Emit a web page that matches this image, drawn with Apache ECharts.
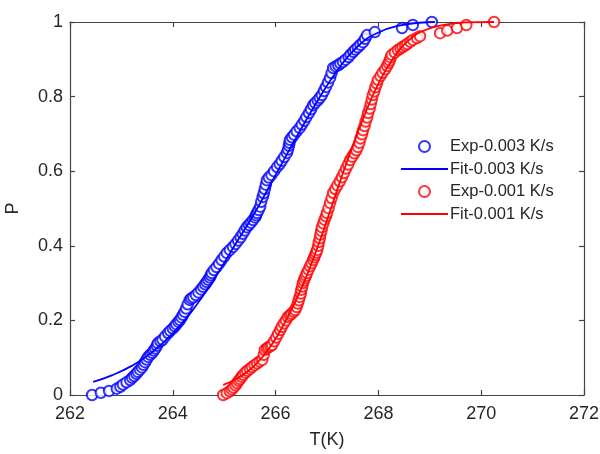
<!DOCTYPE html>
<html>
<head>
<meta charset="utf-8">
<script src="https://cdn.jsdelivr.net/npm/echarts@6/dist/echarts.min.js"></script>
<style>
    html, body { margin: 0; padding: 0; background: #fff; }
    #chart { width: 600px; height: 454px; }
</style>
</head>
<body>
<div id="chart"></div>
<script>
'use strict';
// 实验数据 (经验分布) 与拟合曲线
const expFastT = [262.43, 262.60, 262.76, 262.91, 262.98, 263.03, 263.10, 263.17, 263.21, 263.25,
    263.29, 263.32, 263.36, 263.40, 263.43, 263.46, 263.49, 263.52, 263.56, 263.60,
    263.63, 263.66, 263.69, 263.71, 263.76, 263.80, 263.85, 263.91, 263.95, 264.00,
    264.04, 264.07, 264.11, 264.14, 264.17, 264.20, 264.23, 264.26, 264.29, 264.33,
    264.36, 264.40, 264.45, 264.50, 264.55, 264.59, 264.63, 264.66, 264.69, 264.72,
    264.74, 264.76, 264.80, 264.85, 264.90, 264.95, 265.00, 265.05, 265.11, 265.17,
    265.22, 265.27, 265.32, 265.36, 265.40, 265.44, 265.48, 265.52, 265.56, 265.60,
    265.62, 265.64, 265.67, 265.70, 265.72, 265.75, 265.77, 265.79, 265.81, 265.83,
    265.87, 265.92, 265.97, 266.03, 266.08, 266.12, 266.17, 266.22, 266.24, 266.26,
    266.27, 266.28, 266.32, 266.36, 266.41, 266.47, 266.51, 266.56, 266.60, 266.65,
    266.69, 266.73, 266.77, 266.82, 266.86, 266.90, 266.94, 266.98, 267.02, 267.06,
    267.09, 267.12, 267.17, 267.22, 267.26, 267.31, 267.36, 267.42, 267.46, 267.51,
    267.55, 267.60, 267.65, 267.70, 267.74, 267.78, 267.93, 268.46, 268.67, 269.04];
const expFastP = [0.000, 0.006, 0.011, 0.017, 0.022, 0.028, 0.034, 0.040, 0.046, 0.051,
    0.057, 0.062, 0.068, 0.074, 0.081, 0.088, 0.095, 0.102, 0.108, 0.113,
    0.119, 0.125, 0.132, 0.139, 0.144, 0.148, 0.157, 0.166, 0.172, 0.178,
    0.184, 0.190, 0.196, 0.201, 0.208, 0.215, 0.223, 0.232, 0.243, 0.255,
    0.259, 0.262, 0.268, 0.275, 0.283, 0.290, 0.297, 0.303, 0.309, 0.315,
    0.321, 0.327, 0.335, 0.343, 0.352, 0.362, 0.371, 0.381, 0.389, 0.397,
    0.405, 0.414, 0.423, 0.432, 0.441, 0.450, 0.456, 0.462, 0.469, 0.476,
    0.482, 0.488, 0.496, 0.505, 0.518, 0.531, 0.541, 0.552, 0.564, 0.576,
    0.583, 0.590, 0.600, 0.611, 0.619, 0.628, 0.638, 0.649, 0.658, 0.668,
    0.676, 0.684, 0.691, 0.698, 0.707, 0.716, 0.725, 0.735, 0.745, 0.756,
    0.766, 0.777, 0.783, 0.790, 0.797, 0.804, 0.815, 0.826, 0.838, 0.850,
    0.863, 0.877, 0.881, 0.884, 0.889, 0.893, 0.899, 0.906, 0.913, 0.920,
    0.926, 0.932, 0.939, 0.946, 0.955, 0.965, 0.973, 0.984, 0.992, 1.000];

const fitFastT = [262.45, 262.8, 263.2, 263.6, 264.0, 264.4, 264.8, 265.2, 265.6,
    266.0, 266.4, 266.8, 267.2, 267.6, 268.0, 268.4, 268.8, 269.1];
const fitFastP = [0.035, 0.052, 0.078, 0.115, 0.165, 0.23, 0.31, 0.40, 0.49,
    0.59, 0.69, 0.785, 0.87, 0.935, 0.972, 0.99, 0.998, 1.0];

const expSlowT = [264.98, 265.05, 265.11, 265.15, 265.18, 265.22, 265.25, 265.28, 265.31, 265.34,
    265.37, 265.41, 265.45, 265.50, 265.54, 265.59, 265.64, 265.69, 265.74, 265.77,
    265.79, 265.83, 265.86, 265.90, 265.93, 265.97, 266.01, 266.05, 266.09, 266.12,
    266.16, 266.20, 266.24, 266.28, 266.31, 266.35, 266.38, 266.41, 266.43, 266.45,
    266.47, 266.49, 266.50, 266.52, 266.53, 266.55, 266.57, 266.59, 266.61, 266.64,
    266.67, 266.70, 266.73, 266.75, 266.77, 266.79, 266.81, 266.83, 266.84, 266.86,
    266.87, 266.89, 266.90, 266.93, 266.95, 266.98, 267.00, 267.03, 267.06, 267.09,
    267.12, 267.16, 267.20, 267.25, 267.29, 267.33, 267.37, 267.41, 267.45, 267.49,
    267.53, 267.57, 267.60, 267.63, 267.65, 267.68, 267.70, 267.73, 267.75, 267.78,
    267.80, 267.83, 267.85, 267.87, 267.89, 267.92, 267.94, 267.97, 267.99, 268.04,
    268.08, 268.13, 268.17, 268.20, 268.22, 268.24, 268.26, 268.32, 268.38, 268.43,
    268.47, 268.52, 268.56, 268.62, 268.67, 268.75, 268.81, 269.20, 269.34, 269.53,
    269.71, 270.25];
const expSlowP = [0.000, 0.005, 0.010, 0.015, 0.020, 0.026, 0.032, 0.038, 0.043, 0.049,
    0.054, 0.060, 0.065, 0.070, 0.075, 0.080, 0.085, 0.090, 0.094, 0.108,
    0.121, 0.125, 0.128, 0.131, 0.134, 0.144, 0.154, 0.164, 0.174, 0.183,
    0.192, 0.200, 0.209, 0.214, 0.218, 0.223, 0.228, 0.236, 0.245, 0.254,
    0.263, 0.272, 0.282, 0.291, 0.300, 0.307, 0.314, 0.320, 0.327, 0.336,
    0.345, 0.353, 0.362, 0.369, 0.376, 0.382, 0.389, 0.400, 0.410, 0.420,
    0.430, 0.440, 0.450, 0.460, 0.470, 0.479, 0.488, 0.501, 0.515, 0.528,
    0.542, 0.552, 0.562, 0.573, 0.584, 0.595, 0.607, 0.618, 0.630, 0.639,
    0.648, 0.656, 0.665, 0.676, 0.688, 0.699, 0.710, 0.721, 0.733, 0.744,
    0.756, 0.768, 0.780, 0.792, 0.804, 0.814, 0.825, 0.835, 0.845, 0.855,
    0.864, 0.873, 0.882, 0.890, 0.897, 0.905, 0.912, 0.918, 0.925, 0.929,
    0.933, 0.937, 0.941, 0.947, 0.952, 0.957, 0.962, 0.970, 0.977, 0.984,
    0.992, 1.000];

const fitSlowT = [264.98, 265.3, 265.6, 265.9, 266.2, 266.5, 266.8, 267.1, 267.4,
    267.7, 268.0, 268.3, 268.6, 268.9, 269.3, 269.7, 270.25];
const fitSlowP = [0.027, 0.048, 0.08, 0.13, 0.20, 0.285, 0.39, 0.51, 0.63,
    0.74, 0.835, 0.905, 0.952, 0.978, 0.993, 0.999, 1.0];

const seriesNames = ['Exp-0.003 K/s', 'Fit-0.003 K/s', 'Exp-0.001 K/s', 'Fit-0.001 K/s'];

const pairs = (xs, ys) => xs.map((x, i) => [x, ys[i]]);

const axisColor = '#444';
const textColor = '#262626';
const font = 'Liberation Sans, Arial, sans-serif';

const boxAxis = (show) => ({
    axisLine: { show: true, onZero: false, lineStyle: { color: axisColor, width: 1.2 } },
    axisTick: { show: true, inside: true, length: 5, lineStyle: { color: axisColor, width: 1.2 } },
    axisLabel: { show: show },
    splitLine: { show: false },
});

const chart = echarts.init(document.getElementById('chart'), null, { renderer: 'canvas' });

chart.setOption({
    animation: false,
    backgroundColor: '#fff',
    grid: { left: 70, right: 16, top: 22, bottom: 59, containLabel: false, outerBoundsMode: 'none' },
    legend: {
        data: [
            { name: seriesNames[0], icon: 'emptyCircle' },
            { name: seriesNames[1], itemStyle: { opacity: 0 } },
            { name: seriesNames[2], icon: 'emptyCircle' },
            { name: seriesNames[3], itemStyle: { opacity: 0 } },
        ],
        orient: 'vertical',
        left: 395,
        top: 133,
        itemWidth: 47,
        itemHeight: 11,
        itemGap: 5.5,
        selectedMode: false,
        textStyle: { color: textColor, fontSize: 16.5, fontFamily: font, padding: [0, 0, 0, -3] },
    },
    xAxis: [
        Object.assign({
            type: 'value', min: 262, max: 272, interval: 2,
            name: 'T(K)', nameLocation: 'middle', nameGap: 36,
            nameTextStyle: { color: textColor, fontSize: 18, fontFamily: font },
        }, boxAxis(true), { axisLabel: { color: textColor, fontSize: 18, fontFamily: font, margin: 10 } }),
        Object.assign({ type: 'value', min: 262, max: 272, interval: 2, position: 'top' }, boxAxis(false)),
    ],
    yAxis: [
        Object.assign({
            type: 'value', min: 0, max: 1, interval: 0.2,
            name: 'P', nameLocation: 'middle', nameGap: 48,
            nameTextStyle: { color: textColor, fontSize: 18, fontFamily: font },
        }, boxAxis(true), {
            axisLabel: {
                color: textColor, fontSize: 18, fontFamily: font, margin: 7,
                formatter: v => String(Math.round(v * 10) / 10),
            }
        }),
        Object.assign({ type: 'value', min: 0, max: 1, interval: 0.2, position: 'right' }, boxAxis(false)),
    ],
    series: [
        {
            name: seriesNames[0], type: 'scatter',
            data: pairs(expFastT, expFastP),
            symbol: 'emptyCircle', symbolSize: 10.5,
            itemStyle: { color: '#0000ff', borderColor: '#0000ff', borderWidth: 1.5 },
        },
        {
            name: seriesNames[1], type: 'line',
            data: pairs(fitFastT, fitFastP),
            smooth: true, symbol: 'none',
            lineStyle: { color: '#0000ff', width: 1.8 }, itemStyle: { color: '#0000ff' },
        },
        {
            name: seriesNames[2], type: 'scatter',
            data: pairs(expSlowT, expSlowP),
            symbol: 'emptyCircle', symbolSize: 10.5,
            itemStyle: { color: '#ff0000', borderColor: '#ff0000', borderWidth: 1.5 },
        },
        {
            name: seriesNames[3], type: 'line',
            data: pairs(fitSlowT, fitSlowP),
            smooth: true, symbol: 'none',
            lineStyle: { color: '#ff0000', width: 1.8 }, itemStyle: { color: '#ff0000' },
        },
    ],
});
</script>
</body>
</html>
